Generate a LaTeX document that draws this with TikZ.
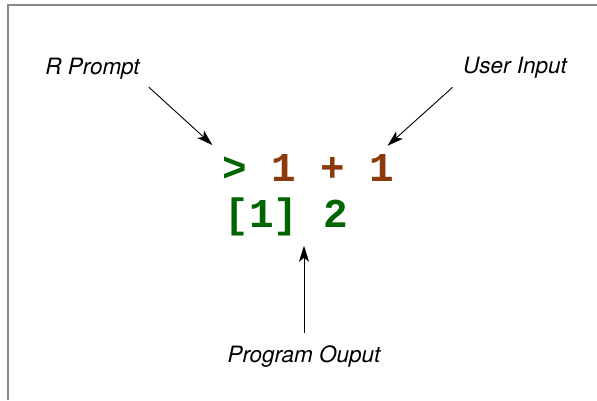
\documentclass[tikz,border=0pt]{standalone}
\usepackage{fontspec}
\setsansfont{TeX Gyre Heros}
\setmonofont{Liberation Mono}
\usetikzlibrary{positioning}
\usetikzlibrary{arrows.meta}
\definecolor{promptgreen}{RGB}{0,100,0}
\definecolor{inputbrown}{RGB}{139,58,10}
\definecolor{framegray}{RGB}{136,136,136}

\begin{document}
\begin{tikzpicture}[x=1pt,y=-1pt,
  codeline/.style={inner sep=0pt,font=\fontsize{41}{46}\selectfont\ttfamily\bfseries},
  note/.style={inner sep=0pt,font=\fontsize{22.5}{27}\selectfont\sffamily\itshape}]

  \useasboundingbox (0,0) rectangle (597,400);
  \draw[framegray,line width=2pt] (8,400) -- (8,4.5) -- (597,4.5);

  % Eingabe und Ausgabe
  \node[codeline,anchor=base west] (cmd) at (222,181) {\textcolor{promptgreen}{>} \textcolor{inputbrown}{1 + 1}};
  \node[codeline,promptgreen] (out) [below right=46pt and 2.5pt of cmd.base west,anchor=base west] {[1] 2};

  % Beschriftungen
  \node[note] (rp) [above left=107pt and 129.5pt of cmd.base west,anchor=base] {R Prompt};
  \node[note] (ui) [above right=108pt and 293pt of cmd.base west,anchor=base] {User Input};
  \node[note] (po) [below right=181pt and 82pt of cmd.base west,anchor=base] {Program Ouput};

  \path[->,>={Stealth[length=16pt,width=10pt,inset=4pt]},line width=0.9pt]
    (rp.south east) edge[shorten <=12pt,shorten >=13pt] (cmd.north west)
    (ui.south west) edge[shorten <=14pt,shorten >=12pt] ([xshift=-16pt]cmd.north east)
    (po.north)      edge[shorten <=12pt,shorten >=10pt] (po.north |- out.south);

\end{tikzpicture}
\end{document}
